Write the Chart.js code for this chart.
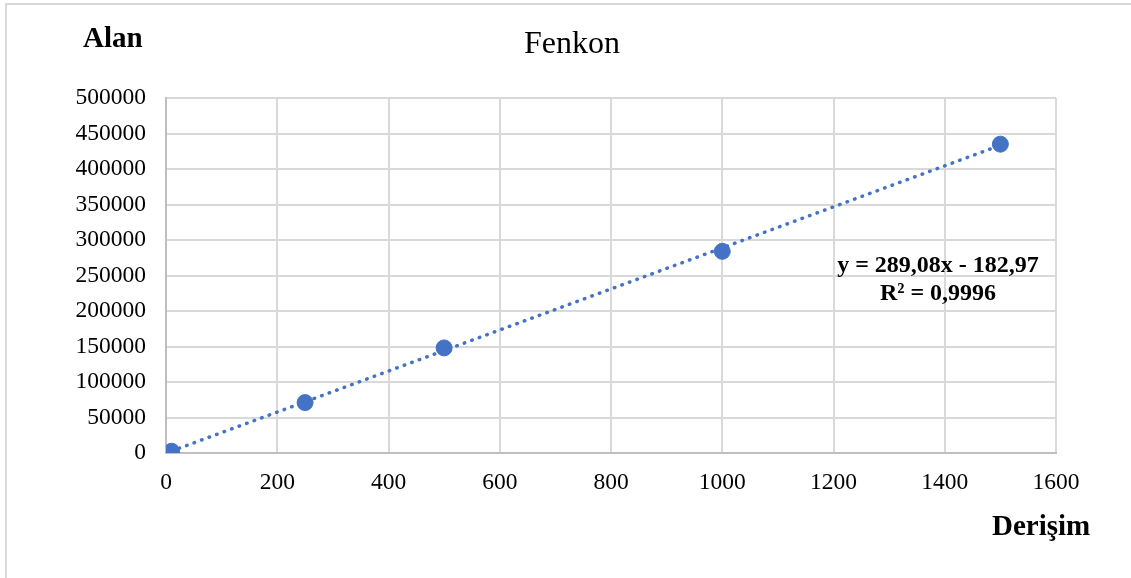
<!DOCTYPE html>
<html>
<head>
<meta charset="utf-8">
<script src="https://cdn.jsdelivr.net/npm/chart.js@4/dist/chart.umd.min.js"></script>
<style>
  html, body { margin: 0; padding: 0; background: #fff; }
  #wrap { width: 1131px; height: 578px; position: relative; }
</style>
</head>
<body>
<div id="wrap"><canvas id="chart" width="1131" height="578"></canvas></div>
<script>
/* ===== data ===== */
const concentrations = [10, 250, 500, 1000, 1500];
const areas = [2500, 71000, 148000, 284000, 435000];
// trendline end points (y = 289,08x - 182,97)
const trendX = [10, 1500];
const trendY = [2700, 433400];
const xTicks = [0, 200, 400, 600, 800, 1000, 1200, 1400, 1600];
const yTicks = [0, 50000, 100000, 150000, 200000, 250000, 300000, 350000, 400000, 450000, 500000];

const titleText = "Fenkon";
const yLabel = "Alan";
const xLabel = "Derişim";
const eqLines = ["y = 289,08x - 182,97", "R² = 0,9996"];

const BLUE = "#4472C4";
const GRID = "#d9d9d9";
const SERIF = "'Liberation Serif', 'Times New Roman', serif";

/* ===== extra texts + frame ===== */
const decorPlugin = {
  id: "decor",
  afterDraw(chart) {
    const ctx = chart.ctx;
    ctx.save();
    // outer frame (left + top)
    ctx.strokeStyle = "#d9d9d9";
    ctx.lineWidth = 2;
    ctx.beginPath();
    ctx.moveTo(6, 578);
    ctx.lineTo(6, 4);
    ctx.lineTo(1131, 4);
    ctx.stroke();

    ctx.fillStyle = "#000";
    ctx.textBaseline = "middle";

    ctx.font = "32px " + SERIF;
    ctx.textAlign = "center";
    ctx.fillText(titleText, 572, 45);

    ctx.font = "bold 29px " + SERIF;
    ctx.textAlign = "left";
    ctx.fillText(yLabel, 83, 40);
    ctx.fillText(xLabel, 992, 528);

    ctx.font = "bold 24px " + SERIF;
    ctx.textAlign = "center";
    ctx.fillText(eqLines[0], 938, 266);
    ctx.fillText(eqLines[1], 938, 294);
    ctx.restore();
  }
};

const ctx = document.getElementById("chart").getContext("2d");
new Chart(ctx, {
  type: "scatter",
  data: {
    datasets: [
      {
        label: "Fenkon",
        data: concentrations.map((x, i) => ({ x, y: areas[i] })),
        backgroundColor: BLUE,
        borderColor: BLUE,
        pointRadius: 8,
        pointHoverRadius: 8,
        showLine: false,
        order: 0
      },
      {
        label: "Trend",
        data: trendX.map((x, i) => ({ x, y: trendY[i] })),
        showLine: true,
        borderColor: BLUE,
        borderWidth: 3.5,
        borderDash: [0.5, 7.5],
        borderCapStyle: "round",
        pointRadius: 0,
        fill: false,
        order: 1
      }
    ]
  },
  options: {
    responsive: false,
    animation: false,
    layout: { padding: { top: 98, right: 75, bottom: 0, left: 0 } },
    plugins: {
      legend: { display: false },
      title: { display: false },
      tooltip: { enabled: false }
    },
    scales: {
      x: {
        type: "linear",
        min: xTicks[0],
        max: xTicks[xTicks.length - 1],
        afterBuildTicks: s => { s.ticks = xTicks.map(v => ({ value: v })); },
        afterFit: s => { s.height = 125; },
        grid: { color: GRID, lineWidth: 2, drawTicks: false },
        border: { color: "#bfbfbf", width: 2 },
        ticks: {
          padding: 16,
          color: "#000",
          font: { family: SERIF, size: 23.5 },
          maxRotation: 0,
          callback: v => String(v)
        }
      },
      y: {
        type: "linear",
        min: yTicks[0],
        max: yTicks[yTicks.length - 1],
        afterBuildTicks: s => { s.ticks = yTicks.map(v => ({ value: v })); },
        afterFit: s => { s.width = 166; },
        grid: { color: GRID, lineWidth: 2, drawTicks: false },
        border: { color: "#bfbfbf", width: 2 },
        ticks: {
          padding: 20,
          color: "#000",
          font: { family: SERIF, size: 23.5 },
          callback: v => String(v)
        }
      }
    }
  },
  plugins: [decorPlugin]
});
</script>
</body>
</html>
